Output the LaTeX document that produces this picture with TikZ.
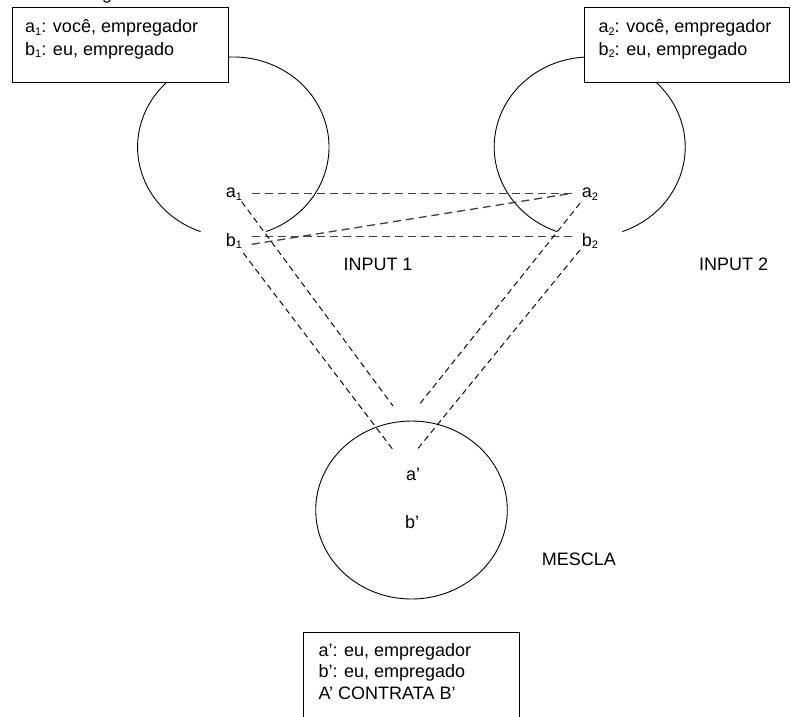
\documentclass[tikz,border=0pt]{standalone}
\usepackage{fontspec}
\setmainfont{Liberation Sans}
\newcommand\lowsub[1]{\raisebox{-0.3ex}{\fontsize{11}{11}\selectfont #1}}
\tikzset{
  lbl/.style={inner sep=0pt, anchor=base west, font=\fontsize{18}{22}\selectfont},
  boxrect/.style={draw, line width=1.1pt, fill=white, anchor=north west, inner sep=0pt},
  space/.style={line width=0.9pt},
  hdash/.style={draw=black!75, line width=1.3pt, dash pattern=on 8pt off 5pt},
  ddash/.style={draw=black, line width=0.95pt, dash pattern=on 6pt off 4pt},
}
\begin{document}
\begin{tikzpicture}[x=1pt,y=-1pt]
\useasboundingbox (0,0) rectangle (791,716);
\clip (0,0) rectangle (791,716);
\fill[white] (0,0) rectangle (791,716);

% cut-off letter at top
\node[lbl] (topg) at (102,-1) {g};

% mental spaces
\draw[space] (233.3,147) ++(110:95.7 and 90) arc[start angle=110, end angle=430, x radius=95.7, y radius=90];
\draw[space] (589.7,147) ++(110:95.5 and 90) arc[start angle=110, end angle=430, x radius=95.5, y radius=90];
\draw[space] (411.5,510) ellipse[x radius=95.8, y radius=89];

% boxes
\node[boxrect, minimum width=216pt, minimum height=75pt] (box1) at (12,7) {};
\node[boxrect, minimum width=205pt, minimum height=75pt] (box2) at (584,7) {};
\node[boxrect, minimum width=216pt, minimum height=90pt] (box3) at (303.3,632.3) {};

\node[lbl] (box1a) at (25,32.3) {a\lowsub{1}: você, empregador};
\node[lbl] (box1b) at (25,55) {b\lowsub{1}: eu, empregado};
\node[lbl] (box2a) at (598.3,32.3) {a\lowsub{2}: você, empregador};
\node[lbl] (box2b) at (598.3,55) {b\lowsub{2}: eu, empregado};
\node[lbl] (box3a) at (318.3,656) {a’: eu, empregador};
\node[lbl] (box3b) at (318.3,677.6) {b’: eu, empregado};
\node[lbl] (box3c) at (318.3,699.3) {A’ CONTRATA B’};

% elements
\node[lbl] (a1) at (225.7,197.7) {a\lowsub{1}};
\node[lbl] (b1) at (225.7,246) {b\lowsub{1}};
\node[lbl] (a2) at (581.7,197.7) {a\lowsub{2}};
\node[lbl] (b2) at (581.7,246) {b\lowsub{2}};
\node[lbl] (ap) at (406,480.7) {a’};
\node[lbl] (bp) at (405,528.3) {b’};

\node[lbl] (in1) at (343.3,270) {INPUT 1};
\node[lbl] (in2) at (699,270.7) {INPUT 2};
\node[lbl] (mes) at (541.7,565) {MESCLA};

% connector end points
\coordinate (a1r) at (251.7,193.3);
\coordinate (a2l) at (571.7,193.3);
\coordinate (b1r) at (251.7,236.7);
\coordinate (b2l) at (571.7,236.7);
\coordinate (b1d) at (251.7,244.3);
\coordinate (a1s) at (241.7,201.7);
\coordinate (a1e) at (393,406);
\coordinate (b1s) at (243.3,253);
\coordinate (b1e) at (392.7,449.3);
\coordinate (a2s) at (580,203.3);
\coordinate (a2e) at (418.5,405.5);
\coordinate (b2s) at (580,250);
\coordinate (b2e) at (417.3,449.3);

% cross-space mappings
\draw[hdash] (a1r) -- (a2l);
\draw[hdash] (b1r) -- (b2l);
\draw[hdash] (b1d) -- (a2l);
\draw[ddash] (a1s) -- (a1e);
\draw[ddash] (b1s) -- (b1e);
\draw[ddash] (a2s) -- (a2e);
\draw[ddash] (b2s) -- (b2e);
\end{tikzpicture}
\end{document}
